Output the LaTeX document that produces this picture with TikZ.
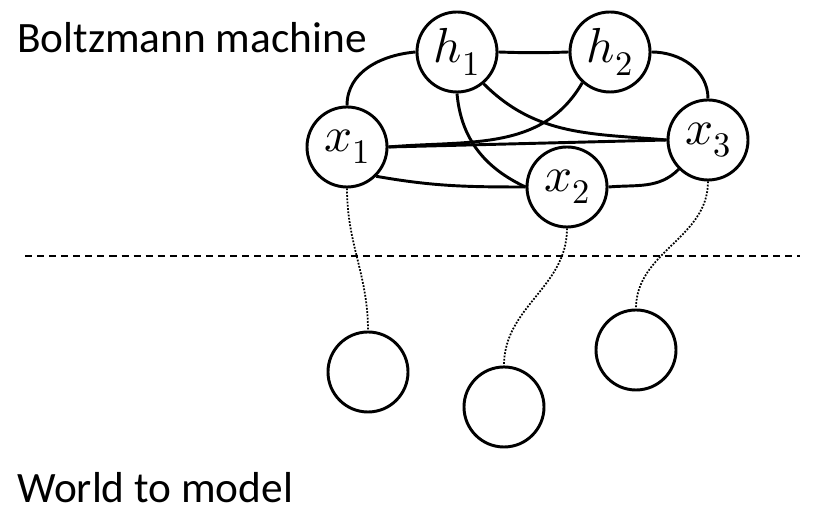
\documentclass[tikz,border=0pt]{standalone}
\usepackage{fontspec}
\usepackage{unicode-math}
\setmainfont{Carlito}
\setmathfont{Latin Modern Math}
\tikzset{
  unit/.style={
    circle, draw=black, line width=2.5pt, fill=white,
    minimum size=2.4cm, inner sep=0pt,
    font=\fontsize{42}{50}\selectfont
  },
  link/.style={line width=2.5pt},
  tie/.style={line width=1.5pt, dash pattern=on 1.5pt off 1.3pt},
  cut/.style={line width=1.6pt, dash pattern=on 6pt off 4.3pt},
  caption/.style={
    inner sep=0pt, anchor=base west,
    font=\fontsize{37}{44}\selectfont
  }
}

\begin{document}
\begin{tikzpicture}[x=0.03cm, y=0.03cm]
  \useasboundingbox (0,0) rectangle (832,514);
  \node[caption] (bm) at (17,461) {Boltzmann machine};
  \node[caption] (wm) at (17,11) {World to model};
  % model units
  \node[unit] (h1) at (457,462) {$h_1$};
  \node[unit] (h2) at (610,462) {$h_2$};
  \node[unit] (x1) at (347,367) {$x_1$};
  \node[unit] (x2) at (567,327) {$x_2$};
  \node[unit] (x3) at (708,374) {$x_3$};
  % world units
  \node[unit] (w1) at (368,142) {};
  \node[unit] (w2) at (504,107) {};
  \node[unit] (w3) at (636,164) {};
  % couplings
  \draw[link] (x1.north) to[out=90,in=185] (h1.west);
  \draw[link] (h1.east) to[out=-2,in=182] (h2.west);
  \draw[link] (h2.east) to[out=0,in=90] (x3.north);
  \draw[link] (h2.228) to[out=240,in=5] (x1.east);
  \draw[link] (x1.east) -- (x3.west);
  \draw[link] (h1.-50) to[out=-45,in=175] (x3.west);
  \draw[link] (h1.south) to[out=-85,in=155] (x2.west);
  \draw[link] (x1.-45) to[out=-10,in=180] (x2.west);
  \draw[link] (x2.east) to[out=5,in=225] (x3.225);
  % boundary
  \coordinate (cutl) at (25,258);
  \coordinate (cutr) at (800,258);
  \draw[cut] (cutl) -- (cutr);
  \foreach \a/\b in {x1/w1, x2/w2, x3/w3}{%
    \draw[tie] (\a.south) to[out=-90,in=90] (\b.north);}
\end{tikzpicture}
\end{document}
